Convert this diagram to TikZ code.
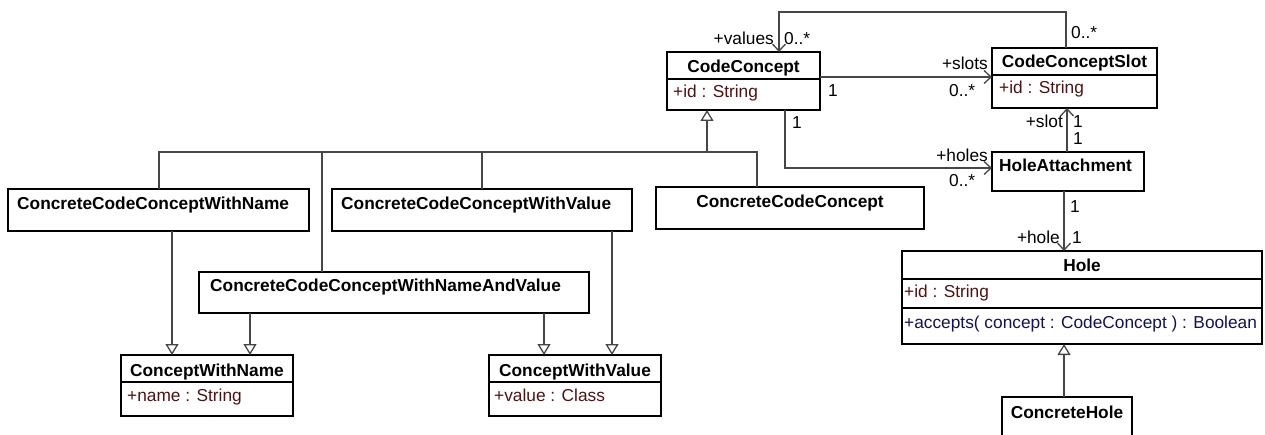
\documentclass[tikz,border=0pt]{standalone}
\usepackage{fontspec}
\setmainfont{Liberation Sans}
\usetikzlibrary{arrows.meta}
\newcommand\umlfs{\fontsize{17.3}{20}\selectfont}
\definecolor{attrc}{RGB}{75,20,20}
\definecolor{opc}{RGB}{20,20,75}
\definecolor{linec}{RGB}{70,70,70}
\tikzset{
  box/.style={draw=black, line width=1.6pt, inner sep=0pt, outer sep=0pt, anchor=north west, fill=white},
  divider/.style={draw=black, line width=1.4pt},
  title/.style={font=\umlfs\bfseries, inner sep=0pt, anchor=base},
  ltitle/.style={font=\umlfs\bfseries, inner sep=0pt, anchor=base west},
  attr/.style={font=\umlfs, text=attrc, inner sep=0pt, anchor=base west},
  oper/.style={font=\umlfs, text=opc, inner sep=0pt, anchor=base west},
  lblw/.style={font=\umlfs, inner sep=0pt, anchor=base west},
  lble/.style={font=\umlfs, inner sep=0pt, anchor=base east},
  conn/.style={draw=linec, line width=1.3pt},
  assoc/.style={conn, -{Straight Barb[length=7pt,width=13pt]}},
  gen/.style={conn, -{Triangle[open, length=11pt, width=13pt, fill=white]}}
}
\begin{document}
\begin{tikzpicture}[x=1pt,y=-1pt]
\useasboundingbox (0,0) rectangle (1265,435);
\clip (0,0) rectangle (1265,435);

% class boxes
\node[box, minimum width=153pt, minimum height=58pt] (cc) at (667,52) {};
\node[box, minimum width=165pt, minimum height=60pt] (ccs) at (992,48) {};
\node[box, minimum width=152pt, minimum height=39pt] (ha) at (992,152) {};
\node[box, minimum width=360pt, minimum height=93pt] (hole) at (902,251) {};
\node[box, minimum width=130pt, minimum height=50pt] (ch) at (1002,397) {};
\node[box, minimum width=268pt, minimum height=42pt] (ccc) at (656,187) {};
\node[box, minimum width=301pt, minimum height=42pt] (cccn) at (8,189) {};
\node[box, minimum width=300pt, minimum height=42pt] (cccv) at (332,189) {};
\node[box, minimum width=390pt, minimum height=41pt] (cccnv) at (199,272) {};
\node[box, minimum width=172pt, minimum height=61pt] (cwn) at (121,355) {};
\node[box, minimum width=172pt, minimum height=61pt] (cwv) at (489,355) {};

% compartments
\draw[divider] ([yshift=-27pt]cc.north west) -- ([yshift=-27pt]cc.north east);
\draw[divider] ([yshift=-27pt]ccs.north west) -- ([yshift=-27pt]ccs.north east);
\draw[divider] ([yshift=-28pt]hole.north west) -- ([yshift=-28pt]hole.north east);
\draw[divider] ([yshift=-57pt]hole.north west) -- ([yshift=-57pt]hole.north east);
\draw[divider] ([yshift=-27pt]cwn.north west) -- ([yshift=-27pt]cwn.north east);
\draw[divider] ([yshift=-27pt]cwv.north west) -- ([yshift=-27pt]cwv.north east);

% texts
\node[title] (cc-t) at (743.5,73) {CodeConcept};
\node[attr] (cc-a) at (673,98) {+id : String};
\node[title] (ccs-t) at (1074.5,68) {CodeConceptSlot};
\node[attr] (ccs-a) at (999,94) {+id : String};
\node[ltitle] (ha-t) at (999,172) {HoleAttachment};
\node[title] (hole-t) at (1082,272) {Hole};
\node[attr] (hole-a) at (904,298) {+id : String};
\node[oper] (hole-o) at (904,328) {+accepts( concept : CodeConcept ) : Boolean};
\node[title] (ch-t) at (1067,418) {ConcreteHole};
\node[title] (ccc-t) at (790,208) {ConcreteCodeConcept};
\node[ltitle] (cccn-t) at (17,210) {ConcreteCodeConceptWithName};
\node[ltitle] (cccv-t) at (341,210) {ConcreteCodeConceptWithValue};
\node[ltitle] (cccnv-t) at (210,292) {ConcreteCodeConceptWithNameAndValue};
\node[title] (cwn-t) at (207,376) {ConceptWithName};
\node[attr] (cwn-a) at (127,401) {+name : String};
\node[title] (cwv-t) at (575,376) {ConceptWithValue};
\node[attr] (cwv-a) at (494,401) {+value : Class};

% association: CodeConceptSlot -> CodeConcept (values)
\draw[assoc] ([xshift=74pt]ccs.north west) -- ++(0,-36) -| ([xshift=112pt]cc.north west);
\node[lble] (l-values) at (774,45) {+values};
\node[lblw] (l-values-m) at (784,45) {0..*};
\node[lblw] (l-ccs-m) at (1071,39) {0..*};

% association: CodeConcept -> CodeConceptSlot (slots)
\coordinate (s1) at ([yshift=-25pt]cc.north east);
\draw[assoc] (s1) -- (s1 -| ccs.west);
\node[lblw] (l-slots-1) at (828,97) {1};
\node[lble] (l-slots) at (988,70) {+slots};
\node[lblw] (l-slots-m) at (949,97) {0..*};

% association: CodeConcept -> HoleAttachment (holes)
\coordinate (h1) at ([xshift=118pt]cc.south west);
\draw[assoc] (h1) |- ([yshift=-16pt]ha.north west);
\node[lblw] (l-holes-1) at (792,129) {1};
\node[lble] (l-holes) at (988,162) {+holes};
\node[lblw] (l-holes-m) at (949,187) {0..*};

% association: HoleAttachment -> CodeConceptSlot (slot)
\coordinate (h2) at ([xshift=75pt]ha.north west);
\draw[assoc] (h2) -- (h2 |- ccs.south);
\node[lble] (l-slot) at (1063,128) {+slot};
\node[lblw] (l-slot-1) at (1073,128) {1};
\node[lblw] (l-slot-2) at (1073,145) {1};

% association: HoleAttachment -> Hole (hole)
\coordinate (h3) at ([xshift=72pt]ha.south west);
\draw[assoc] (h3) -- (h3 |- hole.north);
\node[lblw] (l-hole-1) at (1070,213) {1};
\node[lble] (l-hole) at (1060,244) {+hole};
\node[lblw] (l-hole-2) at (1072,244) {1};

% generalization: ConcreteHole -> Hole
\coordinate (g0) at ([xshift=62pt]ch.north west);
\draw[gen] (g0) -- (g0 |- hole.south);

% generalization tree to CodeConcept
\coordinate (bus) at ([xshift=40pt,yshift=-42pt]cc.south west);
\draw[conn] ([xshift=151pt]cccn.north west) |- (bus) -| ([xshift=101pt]ccc.north west);
\coordinate (g2) at ([xshift=123pt]cccnv.north west);
\draw[conn] (g2) -- (g2 |- bus);
\coordinate (g3) at ([xshift=150pt]cccv.north west);
\draw[conn] (g3) -- (g3 |- bus);
\draw[gen] (bus) -- (bus |- cc.south);

% generalizations to ConceptWithName / ConceptWithValue
\coordinate (g4) at ([xshift=164pt]cccn.south west);
\draw[gen] (g4) -- (g4 |- cwn.north);
\coordinate (g5) at ([xshift=51pt]cccnv.south west);
\draw[gen] (g5) -- (g5 |- cwn.north);
\coordinate (g6) at ([xshift=345pt]cccnv.south west);
\draw[gen] (g6) -- (g6 |- cwv.north);
\coordinate (g7) at ([xshift=280pt]cccv.south west);
\draw[gen] (g7) -- (g7 |- cwv.north);
\end{tikzpicture}
\end{document}
